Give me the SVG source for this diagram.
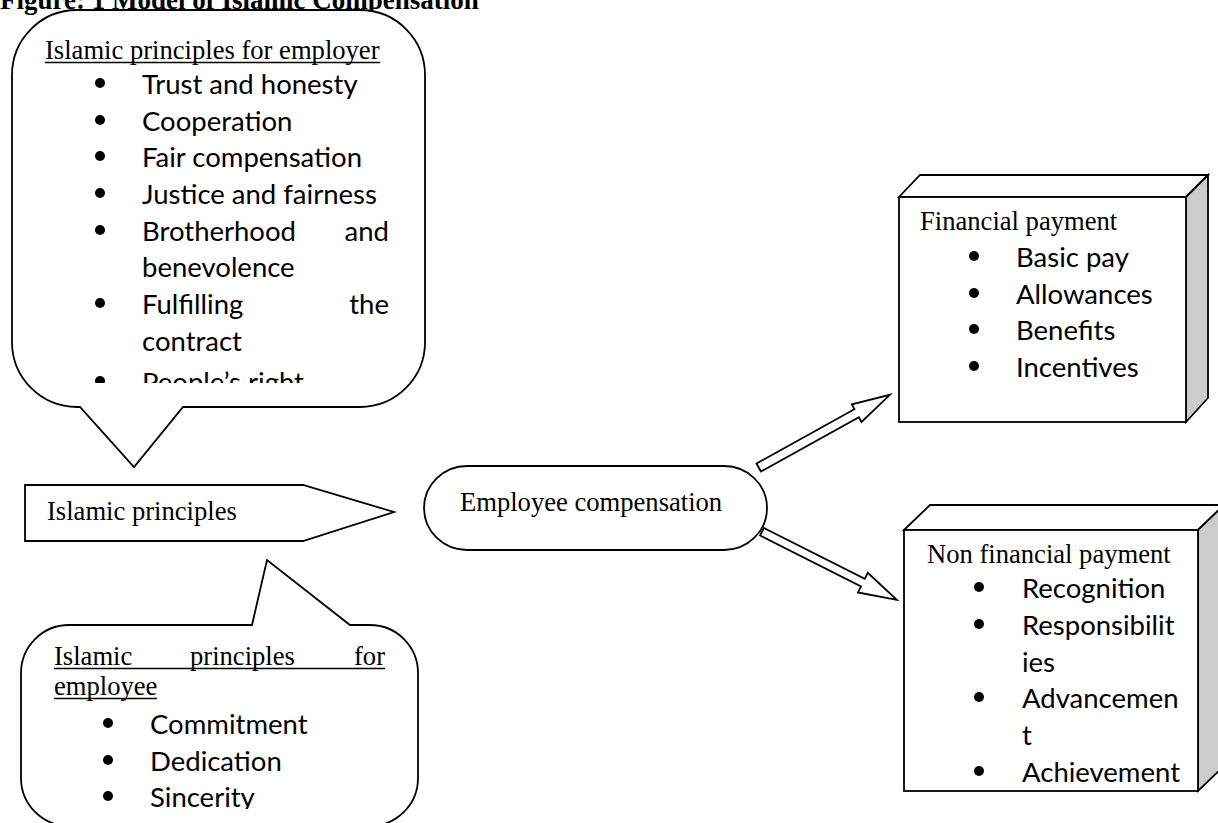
<svg xmlns="http://www.w3.org/2000/svg" width="1218" height="823" viewBox="0 0 1218 823">
<style>
.shape{fill:#fff;stroke:#000;stroke-width:1.8;stroke-linejoin:miter}
.side{fill:#cccccc;stroke:#000;stroke-width:1.8;stroke-linejoin:miter}
.serif{font-family:"Liberation Serif","Times New Roman",serif;font-size:26.6px;fill:#000}
.title{font-family:"Liberation Serif","Times New Roman",serif;font-size:27px;font-weight:bold;fill:#000}
.sans{font-family:Lato,"Open Sans","Liberation Sans",sans-serif;font-size:27.5px;fill:#000}
.ul{stroke:#000;stroke-width:1.4}
.dot{fill:#000}
</style>
<defs>
<clipPath id="clipTop"><rect x="0" y="0" width="440" height="383"/></clipPath>
<clipPath id="clipEmp"><rect x="0" y="600" width="440" height="209"/></clipPath>
<clipPath id="clipNon"><rect x="880" y="500" width="338" height="282"/></clipPath>
</defs>
<rect width="1218" height="823" fill="#fff"/>
<text class="title" x="0" y="9">Figure: 1 Model of Islamic Compensation</text>

<g id="employer-callout">
<path class="shape" d="M77,10 H360 A65,65 0 0 1 425,75 V342 A65,65 0 0 1 360,407 H183 L134,467 L80,407 H77 A65,65 0 0 1 12,342 V75 A65,65 0 0 1 77,10 Z"/>
<g clip-path="url(#clipTop)">
<text class="serif" x="45" y="59">Islamic principles for employer</text>
<line class="ul" x1="45" y1="62.5" x2="380" y2="62.5"/>
<circle class="dot" cx="100" cy="83" r="5"/><text class="sans" x="142" y="94">Trust and honesty</text>
<circle class="dot" cx="100" cy="120" r="5"/><text class="sans" x="142" y="131">Cooperation</text>
<circle class="dot" cx="100" cy="156" r="5"/><text class="sans" x="142" y="167">Fair compensation</text>
<circle class="dot" cx="100" cy="193" r="5"/><text class="sans" x="142" y="204">Justice and fairness</text>
<circle class="dot" cx="100" cy="230" r="5"/><text class="sans" x="142" y="241">Brotherhood</text><text class="sans" x="389" y="241" text-anchor="end">and</text>
<text class="sans" x="142" y="277">benevolence</text>
<circle class="dot" cx="100" cy="303" r="5"/><text class="sans" x="142" y="314">Fulfilling</text><text class="sans" x="389" y="314" text-anchor="end">the</text>
<text class="sans" x="142" y="351">contract</text>
<circle class="dot" cx="100" cy="381" r="5"/><text class="sans" x="142" y="392">People’s right</text>
</g>
</g>

<g id="islamic-principles">
<polygon class="shape" points="25,485 303,485 394,512 303,541 25,541"/>
<text class="serif" x="47" y="520">Islamic principles</text>
</g>

<g id="employee-callout">
<path class="shape" d="M69,625 H252 L267,560 L350,625 H370 A48,48 0 0 1 418,673 V778 A48,48 0 0 1 370,826 H69 A48,48 0 0 1 21,778 V673 A48,48 0 0 1 69,625 Z"/>
<g clip-path="url(#clipEmp)">
<text class="serif" x="54" y="665">Islamic</text>
<text class="serif" x="190" y="665">principles</text>
<text class="serif" x="385" y="665" text-anchor="end">for</text>
<line class="ul" x1="54" y1="668.5" x2="385" y2="668.5"/>
<text class="serif" x="54" y="695">employee</text>
<line class="ul" x1="54" y1="698.5" x2="157" y2="698.5"/>
<circle class="dot" cx="108" cy="723" r="5"/><text class="sans" x="150" y="734">Commitment</text>
<circle class="dot" cx="108" cy="760" r="5"/><text class="sans" x="150" y="771">Dedication</text>
<circle class="dot" cx="108" cy="796" r="5"/><text class="sans" x="150" y="807">Sincerity</text>
</g>
</g>

<g id="employee-compensation">
<rect class="shape" x="424" y="466" width="343" height="84" rx="43" ry="42"/>
<text class="serif" x="460" y="511">Employee compensation</text>
</g>

<g id="financial-payment">
<polygon class="shape" points="899,197 920,175 1208,175 1186,197"/>
<polygon class="side" points="1186,197 1208,175 1208,398 1186,422"/>
<rect class="shape" x="899" y="197" width="287" height="225"/>
<text class="serif" x="920" y="230">Financial payment</text>
<circle class="dot" cx="974" cy="256" r="5"/><text class="sans" x="1016" y="267">Basic pay</text>
<circle class="dot" cx="974" cy="293" r="5"/><text class="sans" x="1016" y="304">Allowances</text>
<circle class="dot" cx="974" cy="329" r="5"/><text class="sans" x="1016" y="340">Benefits</text>
<circle class="dot" cx="974" cy="366" r="5"/><text class="sans" x="1016" y="377">Incentives</text>
</g>

<g id="non-financial-payment">
<polygon class="shape" points="904,530 930,505 1224,505 1198,530"/>
<polygon class="side" points="1198,530 1224,505 1224,766 1198,791"/>
<rect class="shape" x="904" y="530" width="294" height="261"/>
<text class="serif" x="927" y="563">Non financial payment</text>
<g clip-path="url(#clipNon)">
<circle class="dot" cx="979" cy="587" r="5"/><text class="sans" x="1022" y="598">Recognition</text>
<circle class="dot" cx="979" cy="624" r="5"/><text class="sans" x="1022" y="635">Responsibilit</text>
<text class="sans" x="1022" y="672">ies</text>
<circle class="dot" cx="979" cy="697" r="5"/><text class="sans" x="1022" y="708">Advancemen</text>
<text class="sans" x="1022" y="745">t</text>
<circle class="dot" cx="979" cy="771" r="5"/><text class="sans" x="1022" y="782">Achievement</text>
</g>
</g>

<g id="connectors">
<polygon class="shape" transform="translate(758.7,467.5) rotate(-29)" points="0,-4.6 112,-4.6 112,-10 150,0 112,10 112,4.6 0,4.6"/>
<polygon class="shape" transform="translate(762,531.7) rotate(26.8)" points="0,-4.2 113,-4.2 113,-11 151,0 113,11 113,4.2 0,4.2"/>
</g>
</svg>
